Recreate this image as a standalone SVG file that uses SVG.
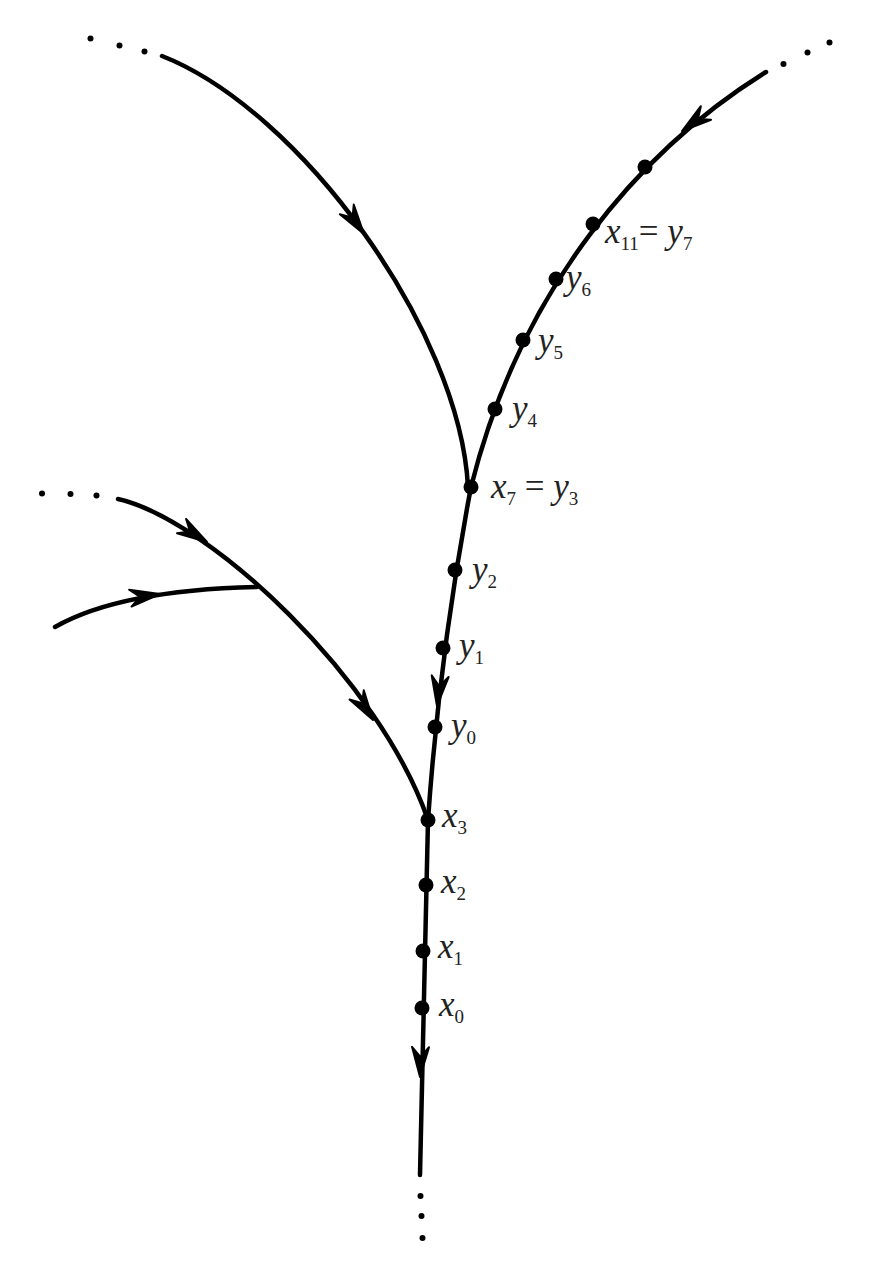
<svg xmlns="http://www.w3.org/2000/svg" width="893" height="1274" viewBox="0 0 893 1274">
<style>
.c{fill:none;stroke:#000;stroke-width:4.5;stroke-linecap:round}
.ah{fill:#000;stroke:#000;stroke-width:2;stroke-linejoin:round}
.pt{fill:#000}
.sd{fill:#000}
.lbl{font-family:"Liberation Serif","Times New Roman",serif;font-size:35px;fill:#222}
.v{font-style:italic}
.s{font-size:19px;font-style:normal}
</style>
<defs>
<path id="ah" d="M0,0 L-30,-8.5 L-20,0 L-30,8.5 Z"/>
</defs>
<g id="connectors">
<path class="c" d="M162,56 C300,110 460,330 468,487"/>
<path class="c" d="M766,72 C640,150 520,290 471,487"/>
<path class="c" d="M471,487 Q440,650 428,820 L420,1175"/>
<path class="c" d="M118,499 C210,520 380,680 428,820"/>
<path class="c" d="M55,627 Q120,590 257,587"/>
<use href="#ah" class="ah" transform="translate(364,234) rotate(55)"/>
<use href="#ah" class="ah" transform="translate(682,131) rotate(143)"/>
<use href="#ah" class="ah" transform="translate(437,706) rotate(96)"/>
<use href="#ah" class="ah" transform="translate(420,1077) rotate(91)"/>
<use href="#ah" class="ah" transform="translate(207,542) rotate(32)"/>
<use href="#ah" class="ah" transform="translate(160,594) rotate(-8)"/>
<use href="#ah" class="ah" transform="translate(373,720) rotate(57)"/>
</g>
<g id="ellipsis">
<circle class="sd" cx="90.5" cy="38.5" r="3"/>
<circle class="sd" cx="119.5" cy="45.5" r="3"/>
<circle class="sd" cx="144.5" cy="51.5" r="3"/>
<circle class="sd" cx="829.5" cy="42.5" r="3"/>
<circle class="sd" cx="807.5" cy="52.5" r="3"/>
<circle class="sd" cx="783.5" cy="64" r="3"/>
<circle class="sd" cx="42" cy="493.5" r="3"/>
<circle class="sd" cx="70.5" cy="494" r="3"/>
<circle class="sd" cx="96.5" cy="495.5" r="3"/>
<circle class="sd" cx="420.5" cy="1196" r="3"/>
<circle class="sd" cx="421.5" cy="1216" r="3"/>
<circle class="sd" cx="422.5" cy="1238" r="3"/>
</g>
<g id="n_top"><circle class="pt" cx="645" cy="167" r="7.5"/></g>
<g id="n_x11"><circle class="pt" cx="593" cy="224" r="7.5"/>
<text class="lbl" x="605" y="243"><tspan class="v">x</tspan><tspan class="s" dy="7">11</tspan><tspan dy="-7">= </tspan><tspan class="v">y</tspan><tspan class="s" dy="7">7</tspan></text></g>
<g id="n_y6"><circle class="pt" cx="556" cy="279" r="7.5"/>
<text class="lbl" x="566" y="289"><tspan class="v">y</tspan><tspan class="s" dy="7">6</tspan></text></g>
<g id="n_y5"><circle class="pt" cx="523" cy="340" r="7.5"/>
<text class="lbl" x="538" y="352"><tspan class="v">y</tspan><tspan class="s" dy="7">5</tspan></text></g>
<g id="n_y4"><circle class="pt" cx="495" cy="409" r="7.5"/>
<text class="lbl" x="512" y="420"><tspan class="v">y</tspan><tspan class="s" dy="7">4</tspan></text></g>
<g id="n_x7"><circle class="pt" cx="471" cy="487" r="7.5"/>
<text class="lbl" x="491" y="498"><tspan class="v">x</tspan><tspan class="s" dy="7">7</tspan><tspan dy="-7"> = </tspan><tspan class="v">y</tspan><tspan class="s" dy="7">3</tspan></text></g>
<g id="n_y2"><circle class="pt" cx="455" cy="570" r="7.5"/>
<text class="lbl" x="472" y="581"><tspan class="v">y</tspan><tspan class="s" dy="7">2</tspan></text></g>
<g id="n_y1"><circle class="pt" cx="443" cy="648" r="7.5"/>
<text class="lbl" x="459" y="657"><tspan class="v">y</tspan><tspan class="s" dy="7">1</tspan></text></g>
<g id="n_y0"><circle class="pt" cx="435" cy="727" r="7.5"/>
<text class="lbl" x="451" y="737"><tspan class="v">y</tspan><tspan class="s" dy="7">0</tspan></text></g>
<g id="n_x3"><circle class="pt" cx="428" cy="820" r="7.5"/>
<text class="lbl" x="442" y="827"><tspan class="v">x</tspan><tspan class="s" dy="7">3</tspan></text></g>
<g id="n_x2"><circle class="pt" cx="426" cy="885" r="7.5"/>
<text class="lbl" x="441" y="893"><tspan class="v">x</tspan><tspan class="s" dy="7">2</tspan></text></g>
<g id="n_x1"><circle class="pt" cx="423" cy="951" r="7.5"/>
<text class="lbl" x="438" y="958"><tspan class="v">x</tspan><tspan class="s" dy="7">1</tspan></text></g>
<g id="n_x0"><circle class="pt" cx="422" cy="1008" r="7.5"/>
<text class="lbl" x="439" y="1016"><tspan class="v">x</tspan><tspan class="s" dy="7">0</tspan></text></g>
</svg>
